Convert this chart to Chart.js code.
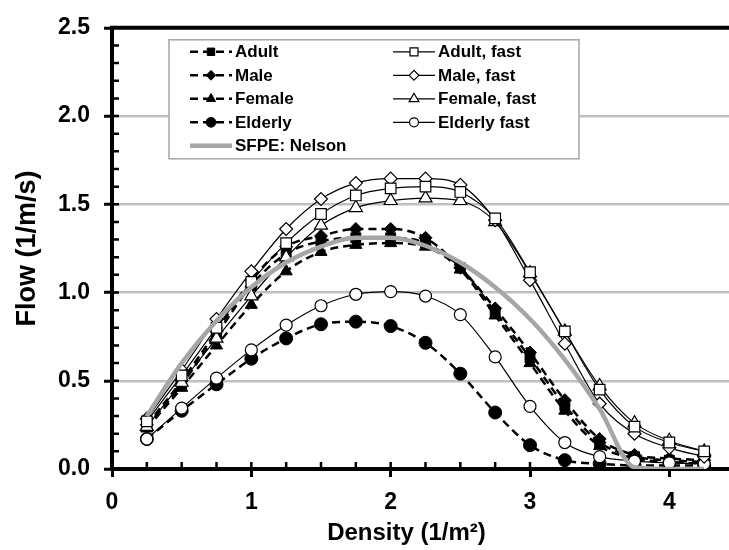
<!DOCTYPE html>
<html>
<head>
<meta charset="utf-8">
<script src="https://cdn.jsdelivr.net/npm/chart.js@4.4.1/dist/chart.umd.min.js"></script>
<style>
    html, body { margin: 0; padding: 0; overflow: hidden; background: #fff; }
</style>
</head>
<body>
<canvas id="flowChart" width="751" height="550"></canvas>
<script>
// === DATEN ===
const densities   = [0.25, 0.5, 0.75, 1, 1.25, 1.5, 1.75, 2, 2.25, 2.5, 2.75, 3, 3.25, 3.5, 3.75, 4, 4.25];
const adult       = [0.24, 0.48, 0.76, 1.04, 1.22, 1.29, 1.31, 1.31, 1.28, 1.14, 0.89, 0.63, 0.36, 0.15, 0.07, 0.05, 0.04];
const male        = [0.25, 0.50, 0.78, 1.07, 1.26, 1.32, 1.36, 1.36, 1.31, 1.14, 0.91, 0.66, 0.39, 0.17, 0.08, 0.06, 0.05];
const female      = [0.23, 0.46, 0.70, 0.93, 1.12, 1.23, 1.27, 1.28, 1.26, 1.13, 0.87, 0.60, 0.33, 0.13, 0.06, 0.04, 0.03];
const elderly     = [0.17, 0.33, 0.48, 0.625, 0.74, 0.82, 0.835, 0.81, 0.715, 0.54, 0.32, 0.135, 0.05, 0.03, 0.02, 0.02, 0.02];
const adultFast   = [0.27, 0.53, 0.80, 1.06, 1.28, 1.445, 1.55, 1.59, 1.60, 1.57, 1.42, 1.115, 0.78, 0.45, 0.24, 0.15, 0.10];
const maleFast    = [0.285, 0.56, 0.85, 1.12, 1.36, 1.53, 1.62, 1.645, 1.645, 1.61, 1.41, 1.07, 0.71, 0.37, 0.20, 0.12, 0.07];
const femaleFast  = [0.24, 0.49, 0.74, 0.98, 1.20, 1.38, 1.48, 1.52, 1.535, 1.52, 1.40, 1.11, 0.78, 0.47, 0.26, 0.16, 0.10];
const elderlyFast = [0.17, 0.345, 0.515, 0.675, 0.815, 0.925, 0.99, 1.005, 0.98, 0.875, 0.635, 0.355, 0.15, 0.07, 0.045, 0.035, 0.03];
const sfpeNelson  = [0.30, 0.60, 0.84, 1.03, 1.17, 1.26, 1.31, 1.31, 1.265, 1.17, 1.03, 0.85, 0.62, 0.34, 0.01, 0, 0];

// Achsen
const X_MIN = 0, X_MAX = 4.5, X_MINOR_STEP = 0.25;
const Y_MIN = 0, Y_MAX = 2.5, Y_MINOR_STEP = 0.1;
const X_TITLE = 'Density (1/m²)';
const Y_TITLE = 'Flow (1/m/s)';

const FONT_FAMILY = '"Liberation Sans", Arial, sans-serif';
const GRAY = '#a6a6a6';

// === HILFSFUNKTIONEN ===
const toPoints = values => densities.map((d, i) => ({ x: d, y: values[i] }));

// gestrichelte Linie, gefüllter Marker
function slowSeries(label, values, pointStyle, radius, row, order) {
    return {
        label, data: toPoints(values), order,
        borderColor: '#000', borderWidth: 2.5, borderDash: [8, 5],
        pointStyle, pointRadius: radius, pointBorderWidth: 1,
        pointBackgroundColor: '#000', pointBorderColor: '#000',
        legendCol: 0, legendRow: row
    };
}

// durchgezogene Linie, offener Marker
function fastSeries(label, values, pointStyle, radius, row, order) {
    return {
        label, data: toPoints(values), order,
        borderColor: '#000', borderWidth: 1.2, borderDash: [],
        pointStyle, pointRadius: radius, pointBorderWidth: 1.2,
        pointBackgroundColor: '#fff', pointBorderColor: '#000',
        legendCol: 1, legendRow: row
    };
}

// === PLUGINS ===
// Innenliegende Teilstriche, oberer Rahmen, x-Achsentitel
const axisDecor = {
    id: 'axisDecor',
    beforeDatasetsDraw(chart) {
        const { ctx, chartArea: a, scales: { x, y } } = chart;
        ctx.save();
        ctx.strokeStyle = '#000';
        ctx.lineWidth = 2.5;
        ctx.beginPath();
        for (let v = X_MINOR_STEP; v < x.max - 1e-9; v += X_MINOR_STEP) {
            const px = x.getPixelForValue(v);
            ctx.moveTo(px, a.bottom);
            ctx.lineTo(px, a.bottom - 7);
        }
        for (let v = Y_MINOR_STEP; v < y.max - 1e-9; v += Y_MINOR_STEP) {
            const py = y.getPixelForValue(v);
            ctx.moveTo(a.left, py);
            ctx.lineTo(a.left + 7, py);
        }
        ctx.stroke();

        ctx.lineWidth = 4;
        ctx.beginPath();
        ctx.moveTo(a.left - 2, a.top);
        ctx.lineTo(chart.width, a.top);
        ctx.stroke();

        // Titel etwas links der Mitte, wie im Original
        ctx.fillStyle = '#000';
        ctx.font = `bold 24px ${FONT_FAMILY}`;
        ctx.textAlign = 'center';
        ctx.textBaseline = 'middle';
        ctx.fillText(X_TITLE, (a.left + a.right) / 2 - 19, 533);
        ctx.restore();
    }
};

// Legende im Kasten, zweispaltig
const boxLegend = {
    id: 'boxLegend',
    afterDatasetsDraw(chart) {
        const { ctx, chartArea: a } = chart;
        const left = a.left + 57, top = a.top + 12, w = 410, h = 119;
        const rowH = 23.5, colX = [left + 21, left + 224], sampleW = 42;

        ctx.save();
        ctx.fillStyle = '#fff';
        ctx.fillRect(left, top, w, h);
        ctx.strokeStyle = GRAY;
        ctx.lineWidth = 1.5;
        ctx.strokeRect(left, top, w, h);

        ctx.font = `bold 17px ${FONT_FAMILY}`;
        ctx.textBaseline = 'middle';
        ctx.textAlign = 'left';

        chart.data.datasets.forEach(ds => {
            const x0 = colX[ds.legendCol];
            const yy = top + 12 + ds.legendRow * rowH;

            ctx.strokeStyle = ds.borderColor;
            ctx.lineWidth = ds.borderWidth;
            ctx.setLineDash(ds.borderDash || []);
            ctx.beginPath();
            ctx.moveTo(x0, yy);
            ctx.lineTo(x0 + sampleW, yy);
            ctx.stroke();
            ctx.setLineDash([]);

            if (ds.pointRadius > 0) {
                ctx.fillStyle = ds.pointBackgroundColor;
                ctx.strokeStyle = ds.pointBorderColor;
                ctx.lineWidth = ds.pointBorderWidth;
                Chart.helpers.drawPoint(ctx, {
                    pointStyle: ds.pointStyle,
                    radius: ds.pointRadius * 0.75,
                    borderWidth: ds.pointBorderWidth,
                    rotation: 0
                }, x0 + sampleW / 2, yy);
            }

            ctx.fillStyle = '#000';
            ctx.fillText(ds.label, x0 + sampleW + 3, yy + 1);
        });
        ctx.restore();
    }
};

// === CHART ===
Chart.defaults.font.family = FONT_FAMILY;
Chart.defaults.font.weight = 'bold';
Chart.defaults.color = '#000';

const datasets = [
    { label: 'SFPE: Nelson', data: toPoints(sfpeNelson), order: 0,
      borderColor: GRAY, borderWidth: 4.5, borderDash: [], pointRadius: 0,
      legendCol: 0, legendRow: 4 },
    slowSeries('Adult', adult, 'rect', 7, 0, 5),
    slowSeries('Male', male, 'rectRot', 6.5, 1, 6),
    slowSeries('Female', female, 'triangle', 7, 2, 7),
    slowSeries('Elderly', elderly, 'circle', 6.5, 3, 8),
    fastSeries('Adult, fast', adultFast, 'rect', 7.5, 0, 1),
    fastSeries('Male, fast', maleFast, 'rectRot', 6.5, 1, 2),
    fastSeries('Female, fast', femaleFast, 'triangle', 7.5, 2, 3),
    fastSeries('Elderly fast', elderlyFast, 'circle', 6, 3, 4)
];

new Chart(document.getElementById('flowChart'), {
    type: 'line',
    data: { datasets },
    options: {
        responsive: false,
        animation: false,
        layout: { padding: { top: 20, right: 3, left: 0, bottom: 0 } },
        elements: { line: { cubicInterpolationMode: 'monotone', fill: false } },
        plugins: { legend: { display: false }, tooltip: { enabled: false } },
        scales: {
            x: {
                type: 'linear', min: X_MIN, max: X_MAX,
                ticks: {
                    stepSize: 1, padding: 12,
                    font: { size: 23, weight: 'bold' },
                    callback: v => Number.isInteger(v) ? String(v) : ''
                },
                grid: {
                    drawOnChartArea: false, tickLength: 8, tickWidth: 3,
                    tickColor: ctx => Number.isInteger(ctx.tick.value) ? '#000' : 'transparent'
                },
                border: { color: '#000', width: 4 },
                title: { display: false },
                afterFit: scale => { scale.height = 81; }
            },
            y: {
                min: Y_MIN, max: Y_MAX,
                ticks: {
                    stepSize: 0.5, padding: 14,
                    font: { size: 23, weight: 'bold' },
                    callback: v => v.toFixed(1)
                },
                grid: {
                    lineWidth: 2.5, tickLength: 8, tickWidth: 3, tickColor: '#000',
                    color: ctx => (ctx.tick && ctx.tick.value > Y_MIN && ctx.tick.value < Y_MAX) ? '#c0c0c0' : 'transparent'
                },
                border: { color: '#000', width: 4 },
                title: {
                    display: true, text: Y_TITLE,
                    font: { size: 27, weight: 'bold' },
                    padding: { top: 11, bottom: 0 }
                },
                afterFit: scale => { scale.width = 112; }
            }
        }
    },
    plugins: [axisDecor, boxLegend]
});
</script>
</body>
</html>
